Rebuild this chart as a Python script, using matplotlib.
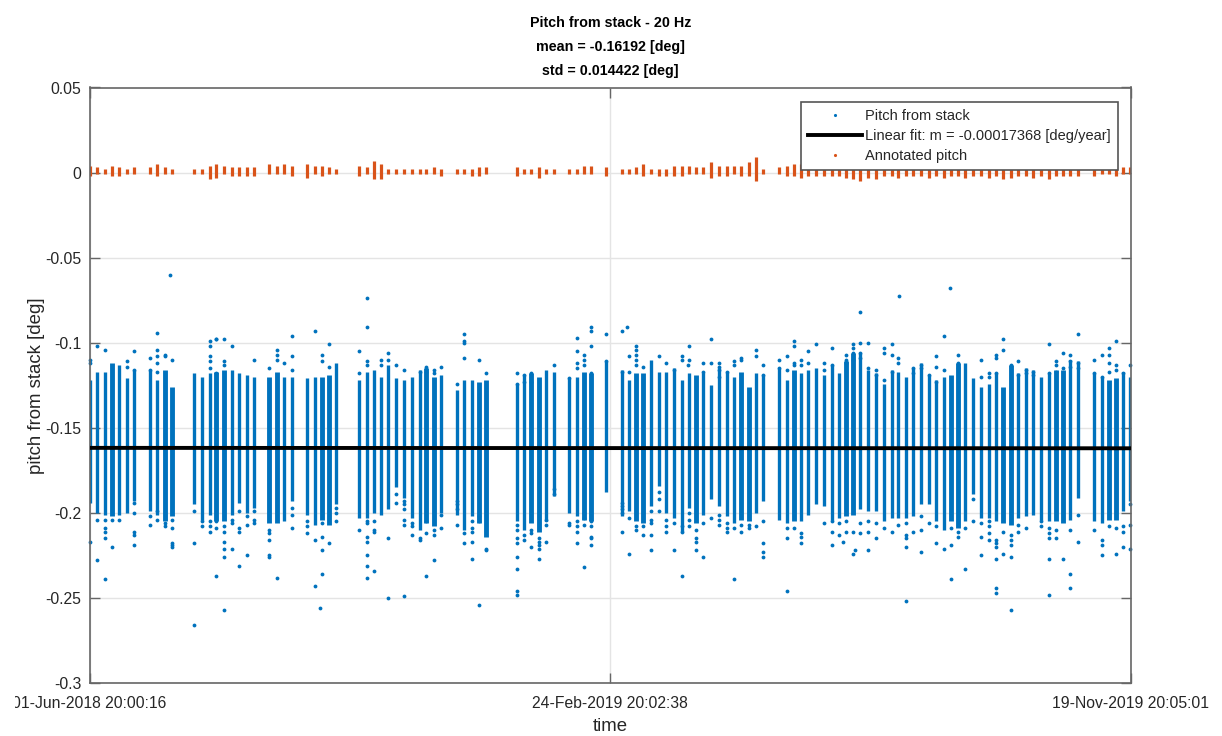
import numpy as np
import matplotlib
matplotlib.use("Agg")
import matplotlib.pyplot as plt
from matplotlib.lines import Line2D
from matplotlib.transforms import Bbox

plt.rcParams['font.family'] = ['Liberation Sans', 'DejaVu Sans']

# acquisition days since 01-Jun-2018, one row per block of passes
strip_days = [0, 4, 8, 11.4, 15, 19.1, 23,
              31, 34.9, 38.7, 42.5,
              54, 57.9, 61.9, 65.3, 69.2, 73.2, 77.1, 80.9, 84.8,
              92.5, 96.5, 100, 104,
              112, 115.9, 119.5, 123.3, 126.9,
              138.9, 142.8, 146.6, 149.9, 153.8, 157.9, 162, 166, 169.9, 173.2, 177.3, 181,
              189, 192.9, 197, 200.5, 204.2,
              219.9, 223.8, 227.2, 231.2, 234.9, 238.9,
              246.9, 250.9, 254.4, 258.3,
              265.8,
              273.9, 277.8, 281.4, 284.9, 289, 292.9, 296.9, 301,
              304.8, 308.7, 312.1, 315.9, 319.9, 324, 328, 331.9, 335.5, 339.3, 343, 346.8,
              354.9, 358.8, 362.6, 366, 369.9, 373.9, 377.9, 382, 385.7, 389.4, 393.1, 396.7, 400.8, 404.8, 408.9, 412.9, 416.3, 420.1,
              423.8, 427.8, 431.9, 435.8, 439.8, 443.2, 447.1, 450.7, 454.9, 458.8, 462.8, 466.7, 470.3, 474.1, 477.7, 481.8, 485.7, 489.7, 493.8, 497.3, 501.2, 504.8, 508.7,
              516.8, 520.9, 524.5, 528.1, 531.9, 535.6]

# passes where two swaths overlap, they read wider
double_days = [11.4, 38.7, 42.5, 65.3, 69.2, 92.5, 96.5, 119.5, 123.3, 173.2, 177.3,
               200.5, 204.2, 227.2, 231.2, 254.4, 258.3, 281.4, 284.9, 312.1, 335.5,
               339.3, 362.6, 389.4, 393.1, 443.2, 447.1, 470.3, 474.1, 497.3, 501.2,
               524.5, 528.1]

strip_top = [-.122, -.117, -.117, -.112, -.113, -.121, -.116,
             -.116, -.122, -.116, -.126,
             -.118, -.120, -.118, -.117, -.116, -.116, -.118, -.119, -.120,
             -.120, -.117, -.120, -.120,
             -.121, -.120, -.120, -.119, -.112,
             -.122, -.117, -.116, -.120, -.113, -.121, -.122, -.120, -.116, -.115, -.120, -.119,
             -.128, -.122, -.122, -.123, -.122,
             -.124, -.119, -.118, -.120, -.116, -.117,
             -.121, -.120, -.117, -.118,
             -.111,
             -.116, -.122, -.118, -.118, -.110, -.117, -.117, -.115,
             -.122, -.118, -.119, -.118, -.125, -.115, -.117, -.120, -.117, -.126, -.118, -.119,
             -.115, -.122, -.116, -.118, -.116, -.115, -.119, -.113, -.118, -.111, -.106, -.106, -.116, -.118, -.124, -.116, -.117, -.120,
             -.115, -.112, -.119, -.122, -.120, -.119, -.112, -.112, -.121, -.126, -.124, -.118, -.126, -.113, -.118, -.115, -.116, -.120, -.118, -.116, -.116, -.110, -.111,
             -.118, -.120, -.122, -.121, -.117, -.120]

strip_bottom = [-.194, -.200, -.201, -.202, -.201, -.200, -.193,
                -.199, -.201, -.205, -.202,
                -.195, -.204, -.201, -.205, -.205, -.201, -.194, -.200, -.197,
                -.206, -.206, -.205, -.193,
                -.201, -.207, -.204, -.207, -.195,
                -.203, -.203, -.200, -.201, -.198, -.185, -.191, -.203, -.210, -.206, -.208, -.200,
                -.201, -.210, -.202, -.206, -.214,
                -.205, -.210, -.206, -.211, -.205, -.190,
                -.200, -.202, -.204, -.205,
                -.188,
                -.202, -.199, -.205, -.206, -.196, -.184, -.200, -.203,
                -.211, -.197, -.206, -.201, -.192, -.196, -.202, -.206, -.204, -.205, -.200, -.193,
                -.204, -.206, -.205, -.205, -.201, -.195, -.196, -.204, -.203, -.202, -.201, -.198, -.199, -.199, -.205, -.203, -.203, -.203,
                -.202, -.195, -.195, -.205, -.210, -.205, -.209, -.205, -.189, -.203, -.203, -.205, -.206, -.207, -.203, -.202, -.201, -.204, -.205, -.205, -.206, -.204, -.191,
                -.205, -.206, -.204, -.204, -.199, -.193]

# scattered points above the strips
high_dot_days = [0, 0, 4, 8, 19.1, 19.1, 23, 23, 31, 31,
                 34.9, 34.9, 34.9, 34.9, 34.9, 38.7, 38.7, 41.4, 42.5,
                 61.9, 61.9, 61.9, 61.9, 61.9, 65.3, 65.3, 65.3, 69.2, 69.2, 69.2, 73.2, 84.8,
                 92.5, 96.5, 96.5, 96.5, 100, 104, 104, 104, 115.9, 119.5, 119.5, 123.3, 123.3,
                 138.9, 138.9, 142.8, 142.8, 142.8, 142.8, 149.9, 149.9, 153.8, 153.8, 157.9, 162, 169.9,
                 173.2, 173.2, 177.3, 177.3, 181, 189,
                 192.9, 192.9, 192.9, 192.9, 200.5, 204.2,
                 219.9, 219.9, 223.8, 223.8, 227.2, 227.2, 238.9, 246.9,
                 250.9, 250.9, 250.9, 250.9, 254.4, 254.4, 254.4, 258.3, 258.3, 258.3, 258.3, 265.8, 265.8,
                 273.9, 273.9, 276.7, 277.8, 277.8, 281.4, 281.4, 281.4, 281.4, 281.4, 284.9, 292.9, 296.9, 301,
                 304.8, 304.8, 307.9, 308.7, 308.7, 315.9, 315.9, 319.9, 319.9, 324, 324, 324, 324, 328,
                 331.9, 331.9, 335.5, 335.5, 343, 343, 346.8, 346.8,
                 354.9, 354.9, 358.8, 358.8, 362.6, 362.6, 362.6, 362.6, 366, 366, 369.9, 369.9, 373.9,
                 377.9, 377.9, 382, 382, 389.4, 389.4, 389.4, 393.1, 393.1, 393.1, 393.1,
                 396.7, 396.7, 396.7, 396.7, 400.8, 400.8, 404.8, 404.8, 408.9, 408.9, 408.9,
                 412.9, 412.9, 412.9, 416.3, 416.3, 416.7,
                 423.8, 423.8, 427.8, 427.8, 431.9, 435.8, 435.8, 435.8, 439.8, 439.8, 443, 447.1, 447.1, 447.1,
                 458.8, 458.8, 462.8, 462.8, 466.7, 466.7, 466.7, 470.3, 470.3, 474.1, 477.7, 477.7,
                 481.8, 481.8, 485.7, 485.7, 493.8, 493.8, 497.3, 497.3, 497.3, 501.2, 501.2,
                 504.8, 504.8, 504.8, 508.7, 508.7, 508.7, 516.8, 516.8, 520.9, 520.9,
                 524.5, 524.5, 524.5, 524.5, 528.1, 528.1, 528.1, 531.9, 535.6]
high_dot_pitch = [-.110, -.112, -.102, -.104, -.111, -.114, -.105, -.116, -.109, -.116,
                  -.094, -.104, -.108, -.112, -.117, -.107, -.108, -.060, -.110,
                  -.099, -.102, -.108, -.111, -.115, -.098, -.098, -.118, -.098, -.111, -.113, -.102, -.110,
                  -.115, -.104, -.107, -.110, -.112, -.096, -.108, -.116, -.093, -.111, -.107, -.101, -.114,
                  -.105, -.118, -.0735, -.091, -.111, -.113, -.110, -.113, -.106, -.110, -.113, -.116, -.117,
                  -.114, -.117, -.116, -.118, -.114, -.124,
                  -.095, -.099, -.100, -.109, -.110, -.118,
                  -.118, -.124, -.119, -.123, -.118, -.123, -.113, -.121,
                  -.097, -.105, -.112, -.115, -.110, -.107, -.113, -.093, -.102, -.118, -.091, -.095, -.111,
                  -.093, -.117, -.091, -.108, -.117, -.102, -.104, -.107, -.110, -.113, -.114, -.108, -.112, -.116,
                  -.108, -.110, -.113, -.102, -.110, -.112, -.117, -.098, -.112, -.112, -.114, -.116, -.120, -.117,
                  -.111, -.113, -.109, -.110, -.104, -.108, -.113, -.119,
                  -.110, -.115, -.108, -.116, -.099, -.102, -.112, -.113, -.110, -.113, -.105, -.112, -.101,
                  -.112, -.116, -.103, -.113, -.107, -.110, -.112, -.101, -.103, -.106, -.110,
                  -.100, -.106, -.109, -.082, -.100, -.115, -.116, -.119, -.103, -.106, -.122,
                  -.101, -.107, -.117, -.109, -.112, -.0723,
                  -.115, -.118, -.113, -.115, -.119, -.108, -.114, -.123, -.096, -.116, -.068, -.107, -.112, -.115,
                  -.110, -.120, -.118, -.120, -.107, -.109, -.118, -.098, -.104, -.113, -.111, -.119,
                  -.116, -.118, -.117, -.119, -.101, -.118, -.111, -.113, -.117, -.106, -.115,
                  -.107, -.111, -.114, -.095, -.112, -.115, -.110, -.118, -.107, -.120,
                  -.103, -.107, -.112, -.117, -.099, -.113, -.116, -.118, -.113]

# scattered points below the strips
low_dot_days = [0, 4, 4, 8, 8, 8, 8, 8, 11.4, 11.4, 15,
                23, 23, 23, 23, 23, 31, 31, 34.9, 34.9, 38.7, 38.7, 42.5, 42.5, 42.5, 42.5, 42.5,
                54, 54, 54, 57.9, 57.9, 61.9, 61.9, 61.9, 65.3, 65.3, 65.3,
                69.2, 69.2, 69.2, 69.2, 69.2, 69.2, 73.2, 73.2, 73.2, 77.1, 77.1, 77.1, 77.1,
                80.9, 80.9, 80.9, 84.8, 84.8, 84.8, 92.5, 92.5, 92.5, 92.5, 92.5, 96.5,
                104, 104, 104, 112, 112, 112, 115.9, 115.9, 119.5, 119.5, 119.5, 119.5, 118.8, 123.3,
                126.9, 126.9, 126.9,
                138.9, 142.8, 142.8, 142.8, 142.8, 142.8, 142.8, 142.8, 146.6, 146.6, 146.6, 146.6,
                153.8, 153.8, 157.9, 157.9, 162, 162, 162, 162, 162, 162, 166, 166, 166, 169.9, 169.9,
                173.2, 173.2, 173.2, 177.3, 177.3, 177.3, 181, 181,
                189, 189, 189, 189, 192.9, 192.9, 197, 197, 197, 197, 197, 200.5, 200.5, 200.5, 204.2, 204.2,
                219.9, 219.9, 219.9, 219.9, 219.9, 219.9, 219.9, 219.9, 223.8, 223.8, 227.2, 227.2, 227.2,
                231.2, 231.2, 231.2, 231.2, 231.2, 234.9, 234.9, 234.9, 238.9, 238.9, 246.9, 246.9,
                250.9, 250.9, 250.9, 250.9, 254.4, 254.4, 254.4, 254.4, 258.3, 258.3, 258.3, 258.3, 258.3,
                273.9, 273.9, 273.9, 273.9, 273.9, 277.8, 277.8, 281.4, 281.4, 284.9, 284.9,
                289, 289, 289, 289, 289, 292.9, 292.9, 292.9, 296.9, 296.9, 296.9, 301, 301,
                304.8, 304.8, 304.8, 308.7, 308.7, 308.7, 312.1, 312.1, 312.1, 312.1, 315.9, 315.9, 319.9,
                324, 324, 324, 328, 328, 328, 331.9, 331.9, 335.5, 335.5, 339.3, 339.3, 343,
                346.8, 346.8, 346.8, 346.8, 358.8, 358.8, 358.8, 362.6, 366, 366, 366, 377.9,
                382, 382, 382, 385.7, 385.7, 389.4, 389.4, 388, 393.1, 393.1, 394, 396.7, 396.7,
                400.8, 400.8, 400.8, 404.8, 404.8, 408.9, 412.9, 416.3,
                420.1, 420.1, 420.1, 420.1, 420.1, 423.8, 427.8, 427.8, 427.8, 431.9, 435.8, 435.8, 439.8,
                443.2, 443.2, 443.2, 447.1, 447.1, 450.7, 450.7, 454.9, 454.9,
                458.8, 458.8, 458.8, 462.8, 462.8, 462.8, 462.8,
                466.7, 466.7, 466.7, 466.7, 466.7, 466.7, 470.3, 470.3,
                474.1, 474.1, 474.1, 474.1, 474.1, 477.7, 477.7, 481.8, 489.7, 489.7,
                493.8, 493.8, 493.8, 493.8, 493.8, 497.3, 497.3, 501.2, 504.8, 504.8, 504.8,
                508.7, 508.7, 516.8, 520.9, 520.9, 520.9, 524.5, 528.1, 528.1,
                531.9, 531.9, 531.9, 535.6, 535.6, 535.6]
low_dot_pitch = [-.217, -.204, -.228, -.204, -.209, -.211, -.215, -.239, -.204, -.220, -.204,
                 -.194, -.200, -.211, -.213, -.219, -.202, -.207, -.199, -.204, -.206, -.208, -.204, -.209, -.220, -.219, -.218,
                 -.199, -.218, -.266, -.205, -.208, -.205, -.208, -.211, -.205, -.209, -.237,
                 -.208, -.211, -.217, -.221, -.226, -.257, -.204, -.206, -.221, -.199, -.209, -.211, -.231,
                 -.202, -.207, -.225, -.199, -.204, -.206, -.210, -.212, -.216, -.225, -.226, -.238,
                 -.197, -.201, -.209, -.205, -.208, -.212, -.216, -.243, -.206, -.214, -.222, -.236, -.256, -.218,
                 -.197, -.200, -.205,
                 -.210, -.205, -.206, -.214, -.217, -.225, -.231, -.238, -.205, -.210, -.211, -.234,
                 -.215, -.250, -.189, -.194, -.193, -.195, -.198, -.204, -.207, -.249, -.206, -.208, -.213, -.215, -.216,
                 -.205, -.212, -.237, -.210, -.213, -.228, -.201, -.209,
                 -.193, -.195, -.198, -.207, -.212, -.218, -.205, -.209, -.211, -.217, -.227, -.202, -.205, -.254, -.221, -.222,
                 -.207, -.210, -.215, -.218, -.226, -.233, -.246, -.248, -.213, -.216, -.210, -.212, -.220,
                 -.215, -.217, -.219, -.221, -.227, -.217, -.207, -.204, -.186, -.189, -.206, -.207,
                 -.205, -.208, -.211, -.218, -.200, -.203, -.207, -.232, -.205, -.208, -.214, -.215, -.219,
                 -.194, -.196, -.198, -.200, -.211, -.203, -.224, -.208, -.210, -.208, -.213,
                 -.199, -.204, -.206, -.213, -.222, -.188, -.192, -.199, -.204, -.208, -.211, -.206, -.222,
                 -.208, -.211, -.237, -.200, -.204, -.208, -.210, -.215, -.217, -.222, -.206, -.226, -.203,
                 -.201, -.204, -.207, -.206, -.209, -.211, -.209, -.239, -.207, -.211, -.207, -.209, -.208,
                 -.205, -.218, -.223, -.226, -.209, -.215, -.246, -.209, -.212, -.214, -.218, -.206,
                 -.205, -.211, -.219, -.206, -.213, -.205, -.211, -.217, -.211, -.224, -.222, -.206, -.212,
                 -.205, -.211, -.222, -.206, -.215, -.209, -.211, -.207,
                 -.206, -.213, -.215, -.220, -.252, -.211, -.202, -.210, -.223, -.206, -.208, -.218, -.221,
                 -.209, -.219, -.239, -.211, -.214, -.209, -.233, -.192, -.205,
                 -.206, -.214, -.225, -.205, -.208, -.212, -.216,
                 -.216, -.218, -.220, -.227, -.244, -.247, -.211, -.224,
                 -.213, -.216, -.219, -.226, -.257, -.207, -.211, -.209, -.205, -.208,
                 -.209, -.212, -.215, -.227, -.248, -.210, -.215, -.227, -.210, -.236, -.244,
                 -.201, -.217, -.210, -.216, -.219, -.225, -.208, -.209, -.224,
                 -.208, -.211, -.220, -.195, -.207, -.221]

# annotated pitch spread at each pass
annot_high = [.004, .003, .002, .004, .003, .002, .003,
              .003, .005, .003, .002,
              .002, .002, .004, .005, .004, .003, .003, .003, .003,
              .005, .004, .005, .004,
              .005, .004, .004, .003, .002,
              .004, .003, .007, .005, .002, .002, .002, .002, .002, .002, .003, .002,
              .002, .002, .002, .003, .003,
              .003, .002, .002, .003, .002, .002,
              .002, .002, .004, .004,
              .003,
              .002, .002, .003, .005, .002, .002, .002, .004,
              .004, .004, .003, .003, .006, .004, .004, .004, .004, .006, .009, .002,
              .003, .004, .005, .005, .004, .004, .004, .004, .004, .004, .004, .004, .004, .004, .004, .004, .004, .004,
              .003, .003, .003, .003, .004, .003, .003, .003, .003, .003, .003, .003, .004, .003, .003, .003, .003, .003, .004, .003, .003, .003, .003,
              .003, .002, .002, .003, .003, .003]
annot_low = [-.002, -.001, -.001, -.002, -.002, -.001, -.001,
             -.001, -.002, -.001, -.001,
             -.001, -.001, -.004, -.003, -.001, -.002, -.002, -.002, -.002,
             -.001, -.001, -.001, -.002,
             -.003, -.001, -.002, -.001, -.001,
             -.002, -.001, -.004, -.004, -.001, -.001, -.001, -.001, -.001, -.001, -.001, -.002,
             -.001, -.001, -.002, -.002, -.001,
             -.002, -.001, -.001, -.003, -.001, -.001,
             -.001, -.001, -.001, -.001,
             -.002,
             -.001, -.001, -.001, -.002, -.001, -.002, -.002, -.002,
             -.002, -.001, -.001, -.001, -.003, -.002, -.002, -.001, -.002, -.002, -.005, -.001,
             -.001, -.002, -.002, -.003, -.002, -.002, -.002, -.002, -.002, -.003, -.004, -.005, -.003, -.004, -.002, -.002, -.003, -.002,
             -.002, -.002, -.003, -.002, -.003, -.002, -.002, -.003, -.002, -.002, -.003, -.002, -.004, -.003, -.002, -.002, -.003, -.002, -.004, -.002, -.002, -.002, -.002,
             -.002, -.001, -.001, -.002, -.001, -.001]

fit_days = [0, 536]
fit_pitch = [-0.16180, -0.16205]

y_ticks = [0.05, 0, -0.05, -0.1, -0.15, -0.2, -0.25, -0.3]
y_labels = ['0.05', '0', '-0.05', '-0.1', '-0.15', '-0.2', '-0.25', '-0.3']
x_ticks = [0, 268, 536]
x_labels = ['01-Jun-2018 20:00:16', '24-Feb-2019 20:02:38', '19-Nov-2019 20:05:01']

BLUE = '#0072BD'
ORANGE = '#D95319'
AXIS = '#666666'

fig = plt.figure(figsize=(12.22, 7.36), dpi=100)
ax = fig.add_axes([89.5 / 1222, 1 - 683 / 736, (1131 - 89.5) / 1222, (683 - 87.5) / 736])

days = np.array(strip_days)
widths = [3.5 if d in double_days else 2.4 for d in strip_days]

ax.vlines(days, strip_bottom, strip_top, colors=BLUE, linewidths=widths, zorder=2)
ax.plot(high_dot_days, high_dot_pitch, '.', color=BLUE, ms=5.5, mew=0, zorder=2, clip_on=False)
ax.plot(low_dot_days, low_dot_pitch, '.', color=BLUE, ms=5.5, mew=0, zorder=2, clip_on=False)

ax.plot(fit_days, fit_pitch, color='k', lw=2.8, zorder=3, solid_capstyle='butt')

ax.vlines(days, annot_low, annot_high, colors=ORANGE, linewidths=2.3, zorder=2)

ax.set_xlim(0, 536)
ax.set_ylim(-0.3, 0.05)
ax.set_xticks(x_ticks)
ax.set_xticklabels(x_labels)
ax.set_yticks(y_ticks)
ax.set_yticklabels(y_labels)
ax.grid(True, color='#e4e4e4', lw=1.0)
ax.set_axisbelow(True)
ax.tick_params(direction='in', length=7, width=1, color=AXIS, labelcolor='#262626',
               labelsize=11.3, top=True, right=True)
ax.tick_params(axis='x', pad=9)
ax.tick_params(axis='y', pad=6)
for spine in ax.spines.values():
    spine.set_color(AXIS)
    spine.set_linewidth(1.2)

# first tick label runs off the figure edge in the original export
first = ax.get_xticklabels()[0]
first.set_clip_box(Bbox([[15, 0], [300, 60]]))
first.set_clip_on(True)

ax.set_xlabel('time', fontsize=13.4, color='#262626', labelpad=5.5)
ax.set_ylabel('pitch from stack [deg]', fontsize=13.4, color='#262626', labelpad=0)
ax.set_title('Pitch from stack - 20 Hz\nmean = -0.16192 [deg]\nstd = 0.014422 [deg]',
             fontsize=10.3, fontweight='bold', color='k', pad=9, linespacing=1.9)

handles = [Line2D([], [], ls='none', marker='.', color=BLUE, ms=4.5, mew=0),
           Line2D([], [], color='k', lw=2.8),
           Line2D([], [], ls='none', marker='.', color=ORANGE, ms=4.5, mew=0)]
names = ['Pitch from stack', 'Linear fit: m = -0.00017368 [deg/year]', 'Annotated pitch']
leg = ax.legend(handles, names, loc='upper left', bbox_to_anchor=(0.6832, 0.9757),
                borderaxespad=0, fontsize=10.5, fancybox=False, framealpha=1,
                edgecolor='#555555', handlelength=3.7, handletextpad=0.2,
                borderpad=0.48, labelspacing=0.4, labelcolor='#262626')
leg.get_frame().set_linewidth(1.2)
leg.set_zorder(5)

plt.savefig('out.png', dpi=100)
